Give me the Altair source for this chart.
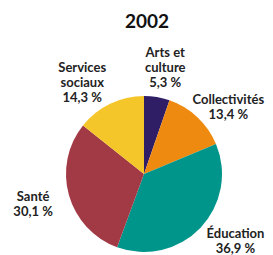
import altair as alt
import pandas as pd

categories = ["Arts et culture", "Collectivités", "Éducation", "Santé", "Services sociaux"]
label_lines = ["Arts et\nculture", "Collectivités", "Éducation", "Santé", "Services\nsociaux"]
values = [5.3, 13.4, 36.9, 30.1, 14.3]
colors = ["#2f1e66", "#ee8a0f", "#00958b", "#a23a46", "#f5c62a"]
title_text = "2002"

df = pd.DataFrame({
    "category": categories,
    "value": values,
    "order": list(range(len(categories))),
    "label": [f"{l}\n{str(v).replace('.', ',')} %" for l, v in zip(label_lines, values)],
})

CX, CY, R = 136, 166, 78
FONT = "Lato"

# style-only offsets for each label (pixels)
label_offsets = {
    "Arts et culture": (3, -13),
    "Collectivités": (9, 6),
    "Éducation": (12, -16),
    "Santé": (-5, -7),
    "Services sociaux": (-14, -7),
}

base = alt.Chart(df)

pie = base.mark_arc(outerRadius=R).encode(
    theta=alt.Theta("value:Q", stack=True),
    order=alt.Order("order:Q"),
    color=alt.Color("category:N", scale=alt.Scale(domain=categories, range=colors), legend=None),
    x=alt.value(CX),
    y=alt.value(CY),
)

lab_base = base.transform_joinaggregate(total="sum(value)").transform_window(
    cum="sum(value)", sort=[alt.SortField("order", order="ascending")]
).transform_calculate(
    mid="(datum.cum - datum.value / 2) / datum.total * 2 * PI"
)

layers = [pie]
for c in categories:
    dx, dy = label_offsets[c]
    layers.append(
        lab_base.transform_filter(alt.datum.category == c).mark_text(
            radius=110, dx=dx, dy=dy, lineBreak="\n", font=FONT, fontWeight="bold",
            fontSize=13, lineHeight=15, align="center", baseline="middle", color="#222222",
        ).encode(
            theta=alt.Theta("mid:Q", scale=None),
            text="label:N",
            x=alt.value(CX),
            y=alt.value(CY),
        )
    )

title = alt.Chart(pd.DataFrame({"t": [title_text]})).mark_text(
    font=FONT, fontWeight="bold", fontSize=19, align="center", baseline="middle", color="#111111"
).encode(text="t:N", x=alt.value(139), y=alt.value(14))
layers.append(title)

chart = alt.layer(*layers).properties(
    width=257, height=247, padding=0, autosize=alt.AutoSizeParams(type="none")
).configure_view(stroke=None)

chart.save("out.html", embed_options={"renderer": "svg", "actions": False})
